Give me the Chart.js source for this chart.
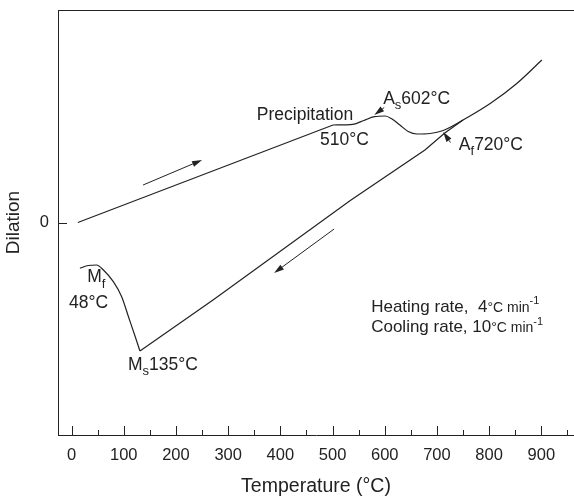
<!DOCTYPE html>
<html>
<head>
<meta charset="utf-8">
<script src="https://cdn.jsdelivr.net/npm/chart.js@4.4.1/dist/chart.umd.min.js"></script>
<style>
  html, body { margin: 0; padding: 0; background: #fff; overflow: hidden; }
  #wrap { width: 574px; height: 499px; }
</style>
</head>
<body>
<div id="wrap"><canvas id="dilChart" width="574" height="499"></canvas></div>
<script>
// Heating branch, straight part (temperature in °C, dilation in arbitrary units)
const heatLineT = [12, 501];
const heatLineD = [0.0, 0.975];

// Heating branch, transformation part and above Af
const heatingT = [501, 539, 560, 580, 601, 614, 629, 645, 662, 687, 712, 750, 802, 853, 901];
const heatingD = [0.975, 0.982, 1.02, 1.058, 1.065, 1.035, 0.975, 0.91, 0.885, 0.89, 0.92, 1.025, 1.19, 1.39, 1.625];

// Cooling branch down to Ms
const coolingT = [750, 715, 677, 534, 271, 131];
const coolingD = [1.025, 0.895, 0.725, 0.22, -0.775, -1.285];

// Martensite transformation, Ms down to room temperature
const mfT = [131, 122, 109, 96, 80, 61, 48, 32, 16];
const mfD = [-1.285, -1.142, -0.942, -0.742, -0.592, -0.475, -0.425, -0.43, -0.458];

const xMajorTicks = [0, 100, 200, 300, 400, 500, 600, 700, 800, 900];
const xMinorTicks = [50, 150, 250, 350, 450, 550, 650, 750, 850, 950];
const yTicks = [0];

const FONT = "'Liberation Sans', Arial, Helvetica, sans-serif";
const INK = "#222";

function toPoints(xs, ys) {
    return xs.map((v, i) => ({ x: v, y: ys[i] }));
}

// Annotation arrows, in data units [fromT, fromD, toT, toD]
const arrows = [
    [137, 0.375, 250, 0.625],
    [503, -0.065, 388, -0.505],
    [599, 1.15, 580, 1.075],
    [726, 0.8, 712, 0.905]
];

// Labels: anchor (left, middle) in data units plus text pieces
const labels = [
    { x: 355, y: 1.075, parts: [{ t: "Precipitation", s: 17.5 }] },
    { x: 476, y: 0.82, parts: [{ t: "510°C", s: 17.5 }] },
    { x: 597, y: 1.235, parts: [{ t: "A", s: 17.5 }, { t: "s", s: 13, dy: 6 }, { t: "602°C", s: 17.5 }] },
    { x: 742, y: 0.775, parts: [{ t: "A", s: 17.5 }, { t: "f", s: 13, dy: 6 }, { t: "720°C", s: 17.5 }] },
    { x: 30, y: -0.545, parts: [{ t: "M", s: 17.5 }, { t: "f", s: 13, dy: 7 }] },
    { x: -5, y: -0.805, parts: [{ t: "48°C", s: 17.5 }] },
    { x: 108, y: -1.425, parts: [{ t: "M", s: 17.5 }, { t: "s", s: 13, dy: 6 }, { t: "135°C", s: 17.5 }] },
    { x: 574, y: -0.845, parts: [{ t: "Heating rate,  4", s: 17 }, { t: "°C min", s: 14, dy: 1 }, { t: "-1", s: 11, dy: -6 }] },
    { x: 574, y: -1.05, parts: [{ t: "Cooling rate, 10", s: 17 }, { t: "°C min", s: 14, dy: 1 }, { t: "-1", s: 11, dy: -6 }] }
];

function drawArrow(ctx, x1, y1, x2, y2) {
    const ang = Math.atan2(y2 - y1, x2 - x1);
    const len = 10, half = 3;
    const bx = x2 - len * Math.cos(ang), by = y2 - len * Math.sin(ang);
    ctx.beginPath();
    ctx.moveTo(x1, y1);
    ctx.lineTo(bx, by);
    ctx.stroke();
    ctx.beginPath();
    ctx.moveTo(x2, y2);
    ctx.lineTo(bx + half * Math.sin(ang), by - half * Math.cos(ang));
    ctx.lineTo(bx - half * Math.sin(ang), by + half * Math.cos(ang));
    ctx.closePath();
    ctx.fill();
}

function drawRich(ctx, x, y, parts) {
    let cx = x;
    parts.forEach((p) => {
        ctx.font = p.s + "px " + FONT;
        ctx.fillText(p.t, cx, y + (p.dy || 0));
        cx += ctx.measureText(p.t).width;
    });
}

const decorations = {
    id: "decorations",
    afterDraw(chart) {
        const { ctx, chartArea: a, scales: { x, y } } = chart;
        ctx.save();
        ctx.strokeStyle = INK;
        ctx.fillStyle = INK;
        ctx.lineWidth = 1;

        // top frame line and inward ticks
        ctx.beginPath();
        ctx.moveTo(a.left, a.top + 0.5);
        ctx.lineTo(a.right, a.top + 0.5);
        xMajorTicks.forEach((v) => {
            const px = Math.round(x.getPixelForValue(v)) + 0.5;
            ctx.moveTo(px, a.bottom);
            ctx.lineTo(px, a.bottom - 9);
        });
        xMinorTicks.forEach((v) => {
            const px = Math.round(x.getPixelForValue(v)) + 0.5;
            if (px > a.right) return;
            ctx.moveTo(px, a.bottom);
            ctx.lineTo(px, a.bottom - 5);
        });
        yTicks.forEach((v) => {
            const py = Math.round(y.getPixelForValue(v)) + 0.5;
            ctx.moveTo(a.left, py);
            ctx.lineTo(a.left + 9, py);
        });
        ctx.stroke();

        // y tick labels (drawn here so they add no layout padding)
        ctx.font = "16.5px " + FONT;
        ctx.textAlign = "right";
        ctx.textBaseline = "middle";
        yTicks.forEach((v) => {
            ctx.fillText(String(v), a.left - 9, y.getPixelForValue(v));
        });

        // arrows
        arrows.forEach((r) => {
            drawArrow(ctx, x.getPixelForValue(r[0]), y.getPixelForValue(r[1]),
                x.getPixelForValue(r[2]), y.getPixelForValue(r[3]));
        });

        // labels
        ctx.textAlign = "left";
        labels.forEach((l) => {
            drawRich(ctx, x.getPixelForValue(l.x), y.getPixelForValue(l.y), l.parts);
        });
        ctx.restore();
    }
};

const lineStyle = {
    showLine: true,
    borderColor: INK,
    borderWidth: 1.2,
    pointRadius: 0,
    fill: false
};

new Chart(document.getElementById("dilChart").getContext("2d"), {
    type: "scatter",
    data: {
        datasets: [
            Object.assign({ label: "Heating (linear)", data: toPoints(heatLineT, heatLineD), tension: 0 }, lineStyle),
            Object.assign({ label: "Heating", data: toPoints(heatingT, heatingD), cubicInterpolationMode: "monotone" }, lineStyle),
            Object.assign({ label: "Cooling", data: toPoints(coolingT, coolingD), tension: 0 }, lineStyle),
            Object.assign({ label: "Martensite", data: toPoints(mfT, mfD), cubicInterpolationMode: "monotone" }, lineStyle)
        ]
    },
    options: {
        responsive: false,
        animation: false,
        layout: { padding: { top: 10, right: 0, left: 0, bottom: 0 } },
        plugins: { legend: { display: false }, tooltip: { enabled: false } },
        scales: {
            x: {
                type: "linear",
                min: -26,
                max: 962.6,
                afterBuildTicks: (s) => { s.ticks = xMajorTicks.map((v) => ({ value: v })); },
                afterFit: (s) => { s.height = 64; },
                grid: { display: true, drawOnChartArea: false, drawTicks: false },
                border: { display: true, color: INK, width: 1 },
                ticks: { color: INK, font: { family: FONT, size: 16.5 }, padding: 11, maxRotation: 0, autoSkip: false },
                title: { display: true, text: "Temperature (°C)", color: INK, font: { family: FONT, size: 19.5 }, padding: { top: 0, bottom: 1 } }
            },
            y: {
                type: "linear",
                min: -2.125,
                max: 2.125,
                afterFit: (s) => { s.width = 58; },
                grid: { display: false },
                border: { display: true, color: INK, width: 1 },
                ticks: { display: false },
                title: { display: true, text: "Dilation", color: INK, font: { family: FONT, size: 19 }, padding: { top: 2, bottom: 0 } }
            }
        }
    },
    plugins: [decorations]
});
</script>
</body>
</html>
